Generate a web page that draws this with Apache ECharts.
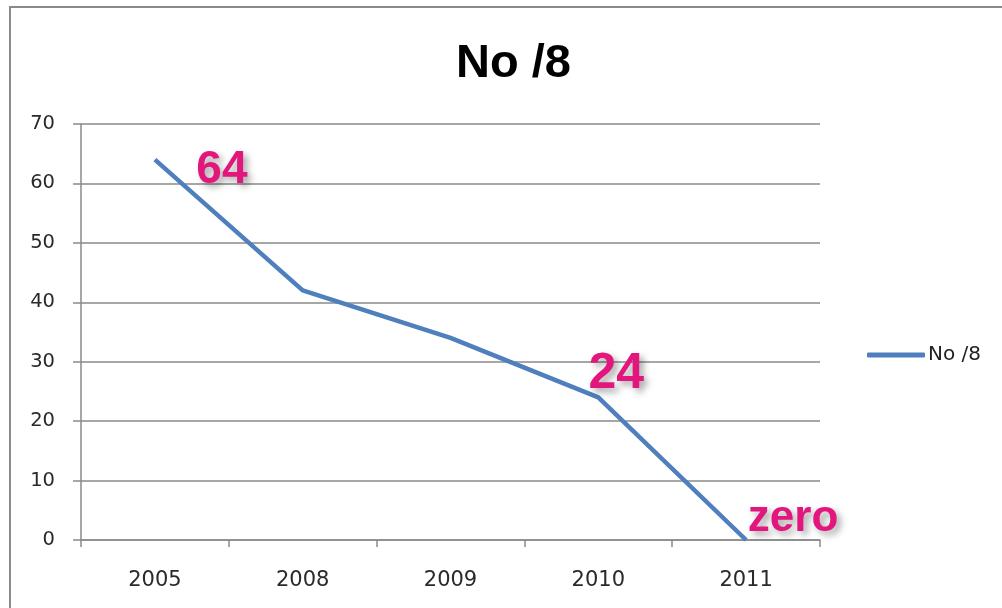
<!DOCTYPE html>
<html>
<head>
<meta charset="utf-8">
<script src="https://cdn.jsdelivr.net/npm/echarts@6/dist/echarts.min.js"></script>
<style>
  html, body { margin: 0; padding: 0; background: #ffffff; }
  #chart { width: 1002px; height: 608px; }
</style>
</head>
<body>
<div id="chart"></div>
<script>
// Series data
const chartTitle = 'No /8';
const categories = ['2005', '2008', '2009', '2010', '2011'];
const values = [64, 42, 34, 24, 0];
// Value labels shown next to selected points (null = no label)
const pointLabels = ['64', null, null, '24', 'zero'];
const yTicks = { min: 0, max: 70, interval: 10 };

const labelColor = '#E2167C';
const labelOffsets = [[67, 11], null, null, [18, -23], [47, -21]];
const labelSizes = [46, null, null, 50, 44];

const seriesData = values.map((v, i) => {
  if (pointLabels[i] == null) return { value: v };
  return {
    value: v,
    label: {
      show: true,
      position: 'inside',
      offset: labelOffsets[i],
      formatter: pointLabels[i],
      color: labelColor,
      fontFamily: 'Liberation Sans, Arial, sans-serif',
      fontWeight: 'bold',
      fontSize: labelSizes[i],
      textShadowColor: 'rgba(0,0,0,0.35)',
      textShadowBlur: 7,
      textShadowOffsetX: 4,
      textShadowOffsetY: 4
    }
  };
});

const axisFont = 'DejaVu Sans, Verdana, sans-serif';

const chart = echarts.init(document.getElementById('chart'), null, { renderer: 'canvas' });
chart.setOption({
  animation: false,
  backgroundColor: '#ffffff',
  graphic: [{
    type: 'rect',
    shape: { x: 10, y: 7, width: 1010, height: 620 },
    style: { fill: 'none', stroke: '#8a8a8a', lineWidth: 2 },
    silent: true,
    z: -1
  }],
  title: {
    text: chartTitle,
    left: 456,
    top: 41,
    padding: 0,
    textStyle: {
      fontFamily: 'Liberation Sans, Arial, sans-serif',
      fontWeight: 'bold',
      fontSize: 47,
      color: '#000000'
    }
  },
  legend: {
    data: [{ name: chartTitle, icon: 'roundRect' }],
    left: 862,
    top: 340,
    itemWidth: 58,
    itemHeight: 5,
    itemGap: 2,
    textStyle: {
      fontFamily: axisFont,
      fontSize: 20,
      color: '#222222',
      padding: [0, 0, 0, -2]
    }
  },
  grid: { left: 81, right: 182, top: 124, bottom: 68, containLabel: false },
  xAxis: {
    type: 'category',
    data: categories,
    boundaryGap: true,
    axisLine: { show: true, lineStyle: { color: '#8a8a8a', width: 1.5 } },
    axisTick: { show: true, length: 7, lineStyle: { color: '#8a8a8a', width: 1.5 } },
    axisLabel: {
      fontFamily: axisFont,
      fontSize: 21,
      color: '#2a2a2a',
      margin: 30
    }
  },
  yAxis: {
    type: 'value',
    min: yTicks.min,
    max: yTicks.max,
    interval: yTicks.interval,
    axisLine: { show: true, lineStyle: { color: '#8a8a8a', width: 1.5 } },
    axisTick: { show: true, length: 8, lineStyle: { color: '#8a8a8a', width: 1.5 } },
    splitLine: { show: true, lineStyle: { color: '#8a8a8a', width: 1.5 } },
    axisLabel: {
      fontFamily: axisFont,
      fontSize: 19.5,
      color: '#2a2a2a',
      margin: 26
    }
  },
  series: [{
    name: chartTitle,
    type: 'line',
    data: seriesData,
    symbol: 'circle',
    symbolSize: 0.1,
    showSymbol: true,
    itemStyle: { color: '#4F7FBC' },
    lineStyle: { color: '#4F7FBC', width: 4.5 },
    label: { show: false },
    z: 3
  }]
});
</script>
</body>
</html>
